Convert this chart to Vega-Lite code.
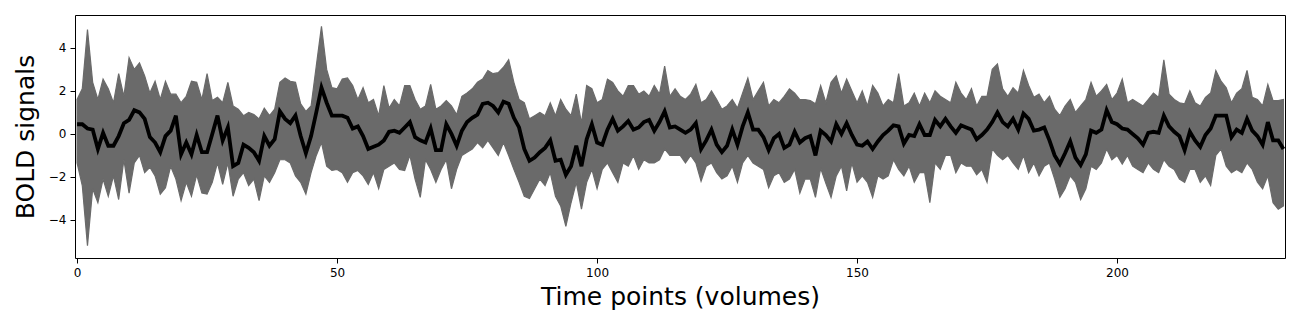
{
  "$schema": "https://vega.github.io/schema/vega-lite/v6.json",
  "autosize": {"type": "none"},
  "padding": {"left": 75, "top": 15, "right": 15, "bottom": 67},
  "width": 1210,
  "height": 243,
  "background": "white",
  "config": {
    "view": {"stroke": "black", "strokeWidth": 1},
    "font": "DejaVu Sans"
  },
  "data": {"values": [
{"t":0,"mean":0.45,"lo":-1.35,"hi":1.6},{"t":1,"mean":0.45,"lo":-2.4,"hi":2.1},{"t":2,"mean":0.25,"lo":-5.2,"hi":4.85},{"t":3,"mean":0.2,"lo":-2.55,"hi":2.4},{"t":4,"mean":-0.7,"lo":-3.2,"hi":1.6},{"t":5,"mean":0.05,"lo":-2.1,"hi":2.55},{"t":6,"mean":-0.55,"lo":-2.9,"hi":2.1},{"t":7,"mean":-0.55,"lo":-1.95,"hi":1.45},{"t":8,"mean":-0.1,"lo":-3.05,"hi":2.8},{"t":9,"mean":0.5,"lo":-1.2,"hi":1.75},
{"t":10,"mean":0.65,"lo":-2.75,"hi":3.55},{"t":11,"mean":1.1,"lo":-1.35,"hi":3.0},{"t":12,"mean":1.0,"lo":-1.0,"hi":3.3},{"t":13,"mean":0.7,"lo":-1.8,"hi":2.7},{"t":14,"mean":-0.15,"lo":-1.55,"hi":1.9},{"t":15,"mean":-0.4,"lo":-1.95,"hi":2.45},{"t":16,"mean":-0.85,"lo":-2.8,"hi":1.6},{"t":17,"mean":-0.1,"lo":-2.5,"hi":2.45},{"t":18,"mean":0.15,"lo":-1.5,"hi":1.85},{"t":19,"mean":0.85,"lo":-2.1,"hi":1.85},
{"t":20,"mean":-0.95,"lo":-3.1,"hi":1.45},{"t":21,"mean":-0.4,"lo":-2.25,"hi":1.75},{"t":22,"mean":-0.95,"lo":-2.9,"hi":2.45},{"t":23,"mean":-0.05,"lo":-1.9,"hi":2.4},{"t":24,"mean":-0.85,"lo":-2.75,"hi":1.6},{"t":25,"mean":-0.85,"lo":-2.8,"hi":2.8},{"t":26,"mean":0,"lo":-2.25,"hi":1.55},{"t":27,"mean":0.85,"lo":-1.35,"hi":1.7},{"t":28,"mean":-0.3,"lo":-2.35,"hi":1.45},{"t":29,"mean":0.3,"lo":-1.35,"hi":2.4},
{"t":30,"mean":-1.5,"lo":-2.9,"hi":1.3},{"t":31,"mean":-1.35,"lo":-2.1,"hi":1.15},{"t":32,"mean":-0.5,"lo":-1.8,"hi":0.85},{"t":33,"mean":-0.65,"lo":-2.4,"hi":1.0},{"t":34,"mean":-0.85,"lo":-2.1,"hi":0.9},{"t":35,"mean":-1.25,"lo":-3.1,"hi":0.7},{"t":36,"mean":-0.1,"lo":-1.95,"hi":1.2},{"t":37,"mean":-0.55,"lo":-2.25,"hi":0.85},{"t":38,"mean":-0.25,"lo":-1.8,"hi":1.15},{"t":39,"mean":1.05,"lo":-1.2,"hi":2.4},
{"t":40,"mean":0.7,"lo":-1.2,"hi":2.6},{"t":41,"mean":0.5,"lo":-1.35,"hi":2.45},{"t":42,"mean":0.85,"lo":-1.95,"hi":2.4},{"t":43,"mean":-0.1,"lo":-2.25,"hi":1.4},{"t":44,"mean":-0.9,"lo":-2.8,"hi":1.05},{"t":45,"mean":-0.1,"lo":-1.8,"hi":1.3},{"t":46,"mean":1.0,"lo":-1.0,"hi":3.15},{"t":47,"mean":2.15,"lo":-0.4,"hi":5.0},{"t":48,"mean":1.45,"lo":-1.5,"hi":3.0},{"t":49,"mean":0.85,"lo":-1.7,"hi":2.15},
{"t":50,"mean":0.85,"lo":-1.65,"hi":2.1},{"t":51,"mean":0.85,"lo":-1.8,"hi":2.55},{"t":52,"mean":0.75,"lo":-2.25,"hi":2.6},{"t":53,"mean":0.25,"lo":-1.8,"hi":2.25},{"t":54,"mean":0.35,"lo":-1.7,"hi":1.6},{"t":55,"mean":-0.1,"lo":-1.95,"hi":2.15},{"t":56,"mean":-0.7,"lo":-2.35,"hi":1.45},{"t":57,"mean":-0.6,"lo":-1.8,"hi":1.6},{"t":58,"mean":-0.5,"lo":-2.55,"hi":0.85},{"t":59,"mean":-0.3,"lo":-1.65,"hi":2.25},
{"t":60,"mean":0.1,"lo":-1.5,"hi":1.2},{"t":61,"mean":0.15,"lo":-1.35,"hi":1.6},{"t":62,"mean":0.05,"lo":-1.65,"hi":1.3},{"t":63,"mean":0.3,"lo":-1.7,"hi":2.25},{"t":64,"mean":0.55,"lo":-1.0,"hi":2.25},{"t":65,"mean":-0.15,"lo":-2.1,"hi":1.6},{"t":66,"mean":-0.3,"lo":-2.95,"hi":1.15},{"t":67,"mean":-0.4,"lo":-1.2,"hi":1.3},{"t":68,"mean":0.25,"lo":-1.65,"hi":2.3},{"t":69,"mean":-0.75,"lo":-2.25,"hi":1.15},
{"t":70,"mean":-0.75,"lo":-1.65,"hi":1.3},{"t":71,"mean":0.45,"lo":-1.2,"hi":1.55},{"t":72,"mean":0,"lo":-2.55,"hi":1.3},{"t":73,"mean":-0.55,"lo":-1.65,"hi":0.9},{"t":74,"mean":0.15,"lo":-1.0,"hi":1.75},{"t":75,"mean":0.55,"lo":-0.85,"hi":1.9},{"t":76,"mean":0.75,"lo":-0.7,"hi":2.1},{"t":77,"mean":0.9,"lo":-0.4,"hi":2.4},{"t":78,"mean":1.4,"lo":-0.65,"hi":2.55},{"t":79,"mean":1.45,"lo":-0.3,"hi":2.95},
{"t":80,"mean":1.3,"lo":-0.65,"hi":2.8},{"t":81,"mean":1.0,"lo":-1.0,"hi":2.85},{"t":82,"mean":1.5,"lo":-0.4,"hi":3.1},{"t":83,"mean":1.4,"lo":-1.0,"hi":3.45},{"t":84,"mean":0.75,"lo":-1.65,"hi":2.4},{"t":85,"mean":0.3,"lo":-2.25,"hi":1.6},{"t":86,"mean":-0.7,"lo":-2.9,"hi":1.45},{"t":87,"mean":-1.25,"lo":-3.0,"hi":0.7},{"t":88,"mean":-1.1,"lo":-2.55,"hi":0.85},{"t":89,"mean":-0.85,"lo":-2.1,"hi":1.0},
{"t":90,"mean":-0.65,"lo":-2.4,"hi":0.85},{"t":91,"mean":-0.3,"lo":-1.8,"hi":1.45},{"t":92,"mean":-1.25,"lo":-2.9,"hi":0.85},{"t":93,"mean":-1.2,"lo":-3.35,"hi":1.6},{"t":94,"mean":-1.9,"lo":-4.3,"hi":1.15},{"t":95,"mean":-1.5,"lo":-3.2,"hi":0.85},{"t":96,"mean":-0.55,"lo":-2.25,"hi":1.85},{"t":97,"mean":-1.5,"lo":-3.5,"hi":0.5},{"t":98,"mean":-0.25,"lo":-2.25,"hi":2.25},{"t":99,"mean":0.45,"lo":-1.65,"hi":2.1},
{"t":100,"mean":-0.4,"lo":-2.55,"hi":1.45},{"t":101,"mean":-0.5,"lo":-1.65,"hi":1.6},{"t":102,"mean":0.2,"lo":-1.35,"hi":2.55},{"t":103,"mean":0.7,"lo":-1.8,"hi":2.4},{"t":104,"mean":0.15,"lo":-2.25,"hi":2.0},{"t":105,"mean":0.35,"lo":-1.35,"hi":1.75},{"t":106,"mean":0.6,"lo":-1.5,"hi":2.25},{"t":107,"mean":0.2,"lo":-1.0,"hi":2.25},{"t":108,"mean":0.3,"lo":-1.65,"hi":1.85},{"t":109,"mean":0.55,"lo":-1.2,"hi":2.0},
{"t":110,"mean":0.65,"lo":-1.35,"hi":1.75},{"t":111,"mean":0.15,"lo":-1.35,"hi":2.25},{"t":112,"mean":0.55,"lo":-1.2,"hi":1.85},{"t":113,"mean":1.05,"lo":-0.7,"hi":3.15},{"t":114,"mean":0.3,"lo":-1.0,"hi":1.75},{"t":115,"mean":0.35,"lo":-1.0,"hi":2.1},{"t":116,"mean":0.2,"lo":-1.0,"hi":1.75},{"t":117,"mean":0.05,"lo":-1.35,"hi":1.6},{"t":118,"mean":0.2,"lo":-1.0,"hi":1.85},{"t":119,"mean":0.5,"lo":-1.35,"hi":2.3},
{"t":120,"mean":-0.7,"lo":-2.2,"hi":1.45},{"t":121,"mean":-0.3,"lo":-1.5,"hi":1.6},{"t":122,"mean":0.2,"lo":-1.35,"hi":2.0},{"t":123,"mean":-0.5,"lo":-1.8,"hi":1.6},{"t":124,"mean":-0.85,"lo":-2.1,"hi":1.15},{"t":125,"mean":-0.55,"lo":-1.95,"hi":1.3},{"t":126,"mean":0.2,"lo":-1.5,"hi":1.6},{"t":127,"mean":-0.5,"lo":-2.25,"hi":1.2},{"t":128,"mean":0.35,"lo":-1.35,"hi":1.9},{"t":129,"mean":1.0,"lo":-1.0,"hi":2.6},
{"t":130,"mean":0.2,"lo":-1.35,"hi":1.6},{"t":131,"mean":0.2,"lo":-1.5,"hi":2.0},{"t":132,"mean":-0.15,"lo":-1.65,"hi":2.4},{"t":133,"mean":-0.75,"lo":-2.5,"hi":1.3},{"t":134,"mean":-0.2,"lo":-1.95,"hi":1.6},{"t":135,"mean":0,"lo":-1.8,"hi":1.45},{"t":136,"mean":-0.65,"lo":-2.25,"hi":1.75},{"t":137,"mean":-0.5,"lo":-2.1,"hi":2.1},{"t":138,"mean":0.1,"lo":-1.65,"hi":1.9},{"t":139,"mean":-0.4,"lo":-2.75,"hi":1.6},
{"t":140,"mean":-0.2,"lo":-2.1,"hi":1.6},{"t":141,"mean":-0.1,"lo":-2.1,"hi":1.55},{"t":142,"mean":-1.0,"lo":-2.95,"hi":1.4},{"t":143,"mean":0.15,"lo":-1.6,"hi":2.25},{"t":144,"mean":-0.05,"lo":-2.3,"hi":1.45},{"t":145,"mean":-0.35,"lo":-2.95,"hi":2.4},{"t":146,"mean":0.45,"lo":-1.95,"hi":2.7},{"t":147,"mean":0,"lo":-1.5,"hi":1.9},{"t":148,"mean":0.5,"lo":-2.65,"hi":2.55},{"t":149,"mean":-0.05,"lo":-1.35,"hi":2.0},
{"t":150,"mean":-0.5,"lo":-2.25,"hi":1.45},{"t":151,"mean":-0.55,"lo":-1.95,"hi":2.0},{"t":152,"mean":-0.35,"lo":-2.25,"hi":1.3},{"t":153,"mean":-0.7,"lo":-2.95,"hi":2.25},{"t":154,"mean":-0.35,"lo":-1.95,"hi":1.9},{"t":155,"mean":-0.05,"lo":-2.1,"hi":1.3},{"t":156,"mean":0.15,"lo":-1.95,"hi":1.6},{"t":157,"mean":0.4,"lo":-1.2,"hi":1.45},{"t":158,"mean":0.35,"lo":-1.65,"hi":2.8},{"t":159,"mean":-0.45,"lo":-1.95,"hi":1.3},
{"t":160,"mean":-0.05,"lo":-1.5,"hi":1.45},{"t":161,"mean":-0.1,"lo":-2.25,"hi":1.9},{"t":162,"mean":0.45,"lo":-1.8,"hi":1.3},{"t":163,"mean":-0.05,"lo":-1.8,"hi":1.9},{"t":164,"mean":-0.05,"lo":-3.2,"hi":1.45},{"t":165,"mean":0.65,"lo":-1.35,"hi":2.0},{"t":166,"mean":0.35,"lo":-1.65,"hi":1.75},{"t":167,"mean":0.7,"lo":-1.0,"hi":1.6},{"t":168,"mean":0.35,"lo":-1.0,"hi":1.45},{"t":169,"mean":0.05,"lo":-1.8,"hi":2.4},
{"t":170,"mean":0.4,"lo":-1.35,"hi":1.9},{"t":171,"mean":0.3,"lo":-1.5,"hi":1.6},{"t":172,"mean":0.2,"lo":-1.5,"hi":2.1},{"t":173,"mean":-0.25,"lo":-1.9,"hi":1.3},{"t":174,"mean":-0.05,"lo":-1.65,"hi":1.75},{"t":175,"mean":0.2,"lo":-2.25,"hi":1.75},{"t":176,"mean":0.55,"lo":-0.7,"hi":3.0},{"t":177,"mean":1.0,"lo":-1.0,"hi":3.25},{"t":178,"mean":0.55,"lo":-1.2,"hi":2.1},{"t":179,"mean":0.35,"lo":-1.0,"hi":1.75},
{"t":180,"mean":0.7,"lo":-1.35,"hi":2.15},{"t":181,"mean":0.2,"lo":-1.65,"hi":1.9},{"t":182,"mean":0.95,"lo":-1.0,"hi":2.95},{"t":183,"mean":0.7,"lo":-1.8,"hi":2.25},{"t":184,"mean":0.15,"lo":-1.35,"hi":1.7},{"t":185,"mean":0.2,"lo":-1.95,"hi":1.85},{"t":186,"mean":0.3,"lo":-1.5,"hi":1.45},{"t":187,"mean":-0.3,"lo":-1.35,"hi":1.75},{"t":188,"mean":-1.0,"lo":-2.1,"hi":1.15},{"t":189,"mean":-1.4,"lo":-2.95,"hi":0.85},
{"t":190,"mean":-0.9,"lo":-2.55,"hi":1.3},{"t":191,"mean":-0.35,"lo":-1.95,"hi":1.6},{"t":192,"mean":-1.1,"lo":-2.25,"hi":1.0},{"t":193,"mean":-1.45,"lo":-3.05,"hi":1.3},{"t":194,"mean":-0.95,"lo":-2.55,"hi":1.6},{"t":195,"mean":0.15,"lo":-1.5,"hi":2.4},{"t":196,"mean":0.05,"lo":-1.65,"hi":1.75},{"t":197,"mean":0.2,"lo":-1.35,"hi":2.0},{"t":198,"mean":1.1,"lo":-0.7,"hi":2.3},{"t":199,"mean":0.55,"lo":-1.2,"hi":1.6},
{"t":200,"mean":0.45,"lo":-1.0,"hi":1.9},{"t":201,"mean":0.25,"lo":-1.4,"hi":2.55},{"t":202,"mean":0.2,"lo":-1.0,"hi":1.45},{"t":203,"mean":0,"lo":-1.5,"hi":1.6},{"t":204,"mean":-0.2,"lo":-1.65,"hi":1.45},{"t":205,"mean":-0.5,"lo":-1.8,"hi":1.3},{"t":206,"mean":0.05,"lo":-1.35,"hi":1.6},{"t":207,"mean":0.1,"lo":-1.65,"hi":1.9},{"t":208,"mean":0.05,"lo":-1.8,"hi":1.7},{"t":209,"mean":0.85,"lo":-1.2,"hi":3.45},
{"t":210,"mean":0.35,"lo":-1.5,"hi":1.85},{"t":211,"mean":0.1,"lo":-1.65,"hi":1.6},{"t":212,"mean":-0.1,"lo":-2.1,"hi":1.45},{"t":213,"mean":-0.75,"lo":-2.25,"hi":1.4},{"t":214,"mean":0.1,"lo":-1.65,"hi":2.0},{"t":215,"mean":-0.3,"lo":-1.65,"hi":1.45},{"t":216,"mean":-0.6,"lo":-2.25,"hi":1.3},{"t":217,"mean":-0.05,"lo":-1.95,"hi":1.7},{"t":218,"mean":0.25,"lo":-2.4,"hi":1.9},{"t":219,"mean":0.85,"lo":-1.0,"hi":2.95},
{"t":220,"mean":0.85,"lo":-0.7,"hi":2.45},{"t":221,"mean":0.85,"lo":-1.5,"hi":2.15},{"t":222,"mean":-0.15,"lo":-1.8,"hi":1.45},{"t":223,"mean":0.2,"lo":-1.65,"hi":1.9},{"t":224,"mean":0.05,"lo":-1.8,"hi":2.1},{"t":225,"mean":0.7,"lo":-1.35,"hi":2.95},{"t":226,"mean":0.15,"lo":-1.65,"hi":1.7},{"t":227,"mean":-0.1,"lo":-2.25,"hi":1.6},{"t":228,"mean":-0.5,"lo":-2.55,"hi":1.3},{"t":229,"mean":0.55,"lo":-1.95,"hi":2.3},
{"t":230,"mean":-0.3,"lo":-3.2,"hi":1.55},{"t":231,"mean":-0.3,"lo":-3.5,"hi":1.55},{"t":232,"mean":-0.7,"lo":-3.35,"hi":1.6}
  ]},
  "encoding": {
    "x": {
      "field": "t", "type": "quantitative",
      "scale": {"domain": [-0.4, 232.3], "nice": false, "zero": false},
      "axis": {
        "values": [0, 50, 100, 150, 200],
        "title": "Time points (volumes)",
        "titleFontSize": 25, "titleFontWeight": "normal", "titleColor": "black", "titlePadding": 6,
        "labelFontSize": 12, "labelColor": "black", "labelPadding": 4,
        "tickColor": "black", "tickSize": 5, "domain": false, "grid": false
      }
    }
  },
  "layer": [
    {
      "mark": {"type": "area", "color": "#6a6a6a", "stroke": "#6a6a6a", "strokeWidth": 1.2, "opacity": 1},
      "encoding": {
        "y": {
          "field": "lo", "type": "quantitative",
          "scale": {"domain": [-5.77, 5.53], "nice": false, "zero": false},
          "axis": {
            "values": [-4, -2, 0, 2, 4],
            "title": "BOLD signals",
            "titleFontSize": 25, "titleFontWeight": "normal", "titleColor": "black", "titlePadding": 10,
            "labelFontSize": 12, "labelColor": "black", "labelPadding": 4,
            "tickColor": "black", "tickSize": 5, "domain": false, "grid": false
          }
        },
        "y2": {"field": "hi"}
      }
    },
    {
      "mark": {"type": "line", "color": "black", "strokeWidth": 3.8, "strokeJoin": "miter"},
      "encoding": {
        "y": {"field": "mean", "type": "quantitative"}
      }
    }
  ]
}
